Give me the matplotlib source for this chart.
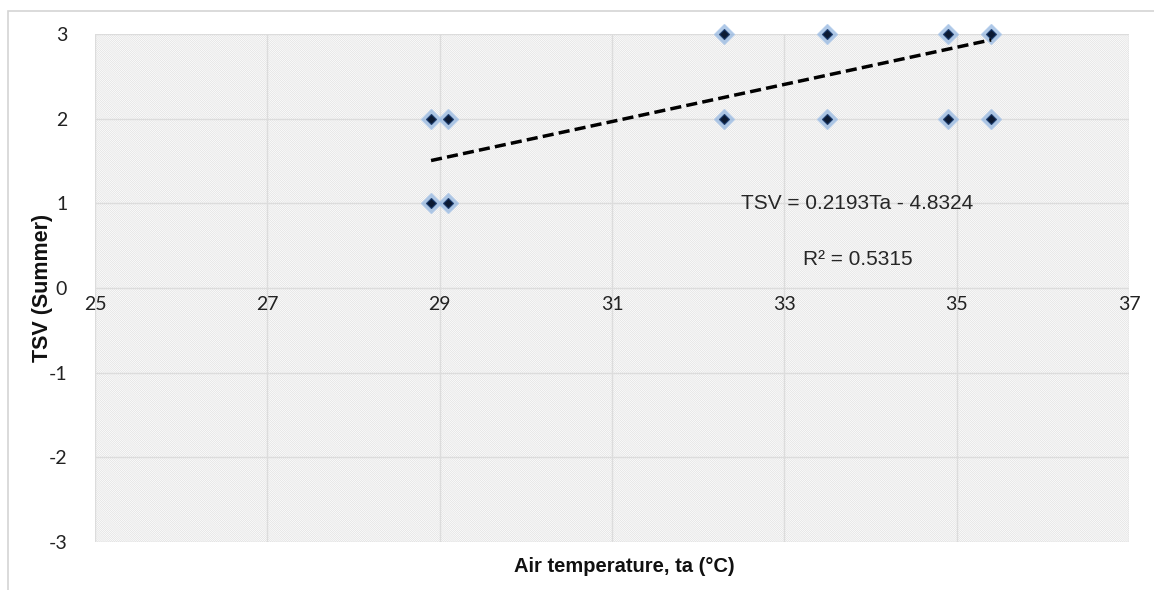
import matplotlib.pyplot as plt
import numpy as np
from matplotlib.patches import Rectangle

# air temperature (deg C) and thermal sensation votes, summer survey
air_temp = [28.9, 28.9, 29.1, 29.1, 32.3, 32.3, 33.5, 33.5, 34.9, 34.9, 35.4, 35.4]
tsv_votes = [2, 1, 2, 1, 3, 2, 3, 2, 3, 2, 3, 2]

# linear fit reported on the chart
slope = 0.2193
intercept = -4.8324
r_squared = 0.5315

x_ticks = [25, 27, 29, 31, 33, 35, 37]
y_ticks = [-3, -2, -1, 0, 1, 2, 3]

plt.rcParams['axes.unicode_minus'] = False
plt.rcParams['hatch.linewidth'] = 0.5

W, H = 1154, 590
fig = plt.figure(figsize=(W / 100, H / 100), dpi=100)
fig.patch.set_facecolor('white')

# thin grey frame round the whole chart
fig.patches.append(Rectangle((8 / W, 0 - 0.05), 1.1, 1 - 11 / H + 0.05,
                             transform=fig.transFigure, fill=False,
                             edgecolor='#d4d4d4', linewidth=1.2, zorder=0))

ax = fig.add_axes([95 / W, 1 - 542 / H, (1129 - 95) / W, (542 - 34) / H])
ax.set_xlim(25, 37)
ax.set_ylim(-3, 3)

# hatched plot area
ax.set_facecolor('white')
ax.add_patch(Rectangle((0, 0), 1, 1, transform=ax.transAxes, facecolor='white',
                       edgecolor='#e0e0e0', hatch='\\' * 16, linewidth=0, zorder=0))

ax.set_xticks(x_ticks)
ax.set_yticks(y_ticks)
ax.grid(True, color='#dcdcdc', linewidth=1.0, zorder=1)
ax.set_axisbelow(True)
for side in ['left', 'right', 'top', 'bottom']:
    ax.spines[side].set_visible(False)
ax.spines['bottom'].set_position(('data', 0))
ax.tick_params(length=0, labelsize=14, colors='#222222')
ax.tick_params(axis='y', pad=20)
ax.tick_params(axis='x', pad=6)
for lbl in ax.get_xticklabels() + ax.get_yticklabels():
    lbl.set_family('Lato')

# scatter points: light blue halo under a dark navy diamond
ax.plot(air_temp, tsv_votes, linestyle='', marker='D', markersize=10,
        markerfacecolor='#8fb3de', markeredgecolor='#a9c5e8', alpha=0.7,
        zorder=3, clip_on=False)
ax.plot(air_temp, tsv_votes, linestyle='', marker='D', markersize=5.5,
        markerfacecolor='#0c1a33', markeredgecolor='#1f3e70', markeredgewidth=0.8,
        zorder=4, clip_on=False)

# trend line
xs = np.array([min(air_temp), max(air_temp)])
ax.plot(xs, slope * xs + intercept, color='black', linewidth=2.5,
        linestyle=(0, (3.2, 1.5)), dash_capstyle='butt', zorder=5)

ax.text(33.85, 1.0, f'TSV = {slope}Ta - {abs(intercept)}', family='Liberation Sans',
        fontsize=15, color='#262626', ha='center', va='center', zorder=6)
ax.text(33.85, 0.34, f'R² = {r_squared}', family='Liberation Sans',
        fontsize=15, color='#262626', ha='center', va='center', zorder=6)

fig.text(624 / W, 1 - 566 / H, 'Air temperature, ta (°C)', family='Liberation Sans',
         fontweight='bold', fontsize=14.5, color='#111111', ha='center', va='center')
fig.text(43 / W, 1 - 288 / H, 'TSV (Summer)', family='Liberation Sans',
         fontweight='bold', fontsize=15.5, color='#111111', ha='center', va='center',
         rotation=90)

fig.savefig('out.png', dpi=100)
